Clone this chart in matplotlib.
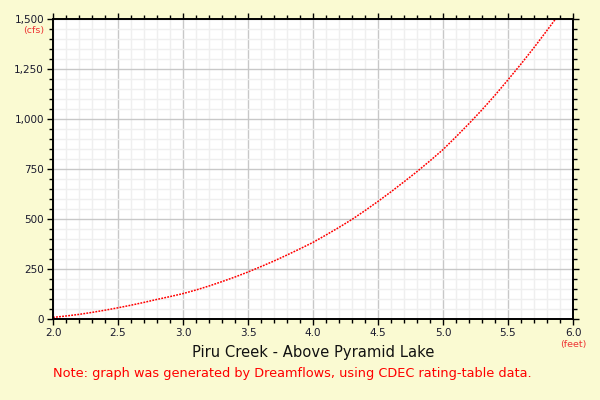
import numpy as np
import matplotlib.pyplot as plt
from matplotlib.ticker import MultipleLocator, FuncFormatter

# stage (feet) vs flow (cfs)
stage = [2.0, 2.1, 2.2, 2.3, 2.4, 2.5, 2.6, 2.7, 2.8, 2.9,
         3.0, 3.1, 3.2, 3.3, 3.4, 3.5, 3.6, 3.7, 3.8, 3.9,
         4.0, 4.1, 4.2, 4.3, 4.4, 4.5, 4.6, 4.7, 4.8, 4.9,
         5.0, 5.1, 5.2, 5.3, 5.4, 5.5, 5.6, 5.7, 5.8, 5.9]
flow = [8, 15, 23, 33, 44, 56, 69, 83, 98, 112,
        127, 145, 165, 187, 210, 235, 262, 290, 320, 351,
        383, 420, 458, 498, 542, 588, 636, 686, 737, 791,
        847, 911, 977, 1046, 1119, 1196, 1275, 1357, 1443, 1530]

title = 'Piru Creek - Above Pyramid Lake'
note = 'Note: graph was generated by Dreamflows, using CDEC rating-table data.'

bg = '#fafad2'
fig = plt.figure(figsize=(6, 4), dpi=100, facecolor=bg)
ax = fig.add_axes([53/600, 1-319/400, 520/600, 300/400])
ax.set_facecolor('white')

ax.plot(stage, flow, color='red', lw=1.1, linestyle=(0, (1.2, 0.8)))

ax.set_xlim(2.0, 6.0)
ax.set_ylim(0, 1500)
ax.xaxis.set_major_locator(MultipleLocator(0.5))
ax.xaxis.set_minor_locator(MultipleLocator(0.1))
ax.yaxis.set_major_locator(MultipleLocator(250))
ax.yaxis.set_minor_locator(MultipleLocator(50))
ax.xaxis.set_major_formatter(FuncFormatter(lambda v, p: f'{v:.1f}'))
ax.yaxis.set_major_formatter(FuncFormatter(lambda v, p: f'{int(v):,}'))

ax.grid(True, which='major', color='#c8c8c8', lw=1)
ax.grid(True, which='minor', color='#efefef', lw=1)
ax.set_axisbelow(True)

for s in ax.spines.values():
    s.set_linewidth(1.4)
ax.tick_params(which='both', direction='out', top=True, right=True,
               labelsize=7.5, labelcolor='#1a1a2e', width=1)
ax.tick_params(which='major', length=4.5, pad=2)
ax.tick_params(which='minor', length=3)

fig.text(44/600, 1-31/400, '(cfs)', color='#ee3333', fontsize=6.8,
         ha='right', va='center')
fig.text(573/600, 1-345/400, '(feet)', color='#ee3333', fontsize=6.8,
         ha='center', va='center')
fig.text(313/600, 1-353/400, title, color='#111111', fontsize=10.6,
         ha='center', va='center')
fig.text(53/600, 1-373/400, note, color='red', fontsize=9.25,
         ha='left', va='center')

fig.savefig('out.png', dpi=100, facecolor=bg)
